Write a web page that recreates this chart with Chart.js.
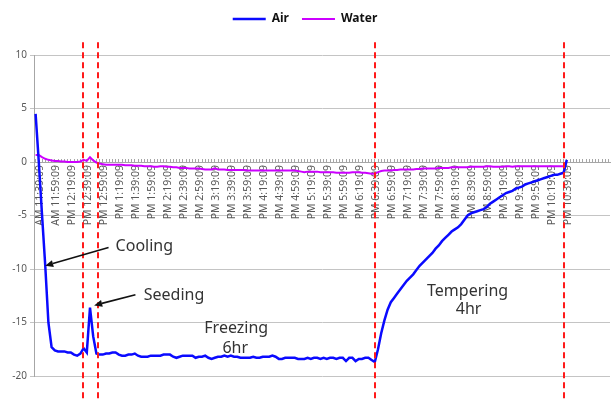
<!DOCTYPE html>
<html><head><meta charset="utf-8">
<script src="https://cdn.jsdelivr.net/npm/chart.js@4.4.1/dist/chart.umd.min.js"></script>
<style>html,body{margin:0;padding:0;background:#fff;}#wrap{width:616px;height:403px;}</style>
</head><body><div id="wrap"><canvas id="c" width="616" height="403"></canvas></div>
<script>
// Tick labels (every 20 minutes)
const tickLabels = ["AM 11:39:09","AM 11:59:09","PM 12:19:09","PM 12:39:09","PM 12:59:09","PM 1:19:09","PM 1:39:09","PM 1:59:09","PM 2:19:09","PM 2:39:09","PM 2:59:09","PM 3:19:09","PM 3:39:09","PM 3:59:09","PM 4:19:09","PM 4:39:09","PM 4:59:09","PM 5:19:09","PM 5:39:09","PM 5:59:09","PM 6:19:09","PM 6:39:09","PM 6:59:09","PM 7:19:09","PM 7:39:09","PM 7:59:09","PM 8:19:09","PM 8:39:09","PM 8:59:09","PM 9:19:09","PM 9:39:09","PM 9:59:09","PM 10:19:09","PM 10:39:09"];
const categoryCount = 180;   // samples on the category axis (4-minute steps)
const stepsPerLabel = 5;

// Series (°C)
const airTemps = [4.5,0.0,-4.9,-9.6,-15.0,-17.3,-17.6,-17.7,-17.7,-17.7,
-17.8,-17.8,-18.0,-18.1,-17.9,-17.4,-17.8,-13.6,-16.3,-17.9,
-18.0,-18.0,-17.9,-17.9,-17.8,-17.8,-18.0,-18.1,-18.1,-18.0,
-18.0,-17.9,-18.1,-18.2,-18.2,-18.2,-18.1,-18.1,-18.1,-18.1,
-18.0,-18.0,-18.0,-18.2,-18.3,-18.2,-18.1,-18.1,-18.1,-18.1,
-18.3,-18.2,-18.2,-18.1,-18.3,-18.4,-18.3,-18.2,-18.2,-18.1,
-18.2,-18.1,-18.2,-18.2,-18.3,-18.3,-18.3,-18.3,-18.2,-18.3,
-18.3,-18.2,-18.2,-18.2,-18.1,-18.2,-18.4,-18.4,-18.3,-18.3,
-18.3,-18.3,-18.4,-18.4,-18.4,-18.3,-18.4,-18.3,-18.3,-18.4,
-18.3,-18.4,-18.3,-18.3,-18.4,-18.3,-18.3,-18.6,-18.3,-18.3,
-18.6,-18.4,-18.4,-18.3,-18.3,-18.5,-18.7,-17.5,-16.0,-14.8,
-13.8,-13.1,-12.7,-12.3,-11.9,-11.5,-11.1,-10.8,-10.5,-10.1,
-9.7,-9.4,-9.1,-8.8,-8.5,-8.1,-7.8,-7.4,-7.1,-6.8,
-6.5,-6.3,-6.1,-5.8,-5.4,-5.0,-4.8,-4.7,-4.6,-4.5,
-4.4,-4.2,-3.9,-3.7,-3.5,-3.3,-3.1,-2.9,-2.8,-2.7,
-2.5,-2.4,-2.3,-2.1,-2.0,-1.9,-1.8,-1.7,-1.6,-1.5,
-1.4,-1.3,-1.2,-1.2,-1.1,-1.0,0.2];
const waterTemps = [0.65,0.65,0.45,0.3,0.2,0.15,0.1,0.1,0.05,0.05,
0.0,0.0,0.0,0.0,0.05,0.2,0.1,0.45,0.15,-0.05,
-0.15,-0.2,-0.25,-0.25,-0.25,-0.25,-0.25,-0.25,-0.3,-0.3,
-0.3,-0.35,-0.35,-0.35,-0.4,-0.4,-0.4,-0.45,-0.45,-0.4,
-0.4,-0.45,-0.45,-0.5,-0.5,-0.55,-0.55,-0.55,-0.6,-0.6,
-0.6,-0.6,-0.65,-0.7,-0.7,-0.7,-0.6,-0.7,-0.7,-0.7,
-0.75,-0.75,-0.75,-0.75,-0.75,-0.75,-0.8,-0.8,-0.8,-0.8,
-0.8,-0.8,-0.8,-0.8,-0.8,-0.8,-0.8,-0.8,-0.8,-0.8,
-0.8,-0.8,-0.85,-0.9,-0.95,-0.9,-0.9,-0.9,-0.9,-0.95,
-0.95,-0.95,-0.95,-0.95,-1.0,-1.0,-1.0,-1.0,-1.0,-0.95,
-0.95,-0.95,-1.0,-1.0,-1.05,-1.1,-1.1,-0.95,-0.85,-0.8,
-0.8,-0.8,-0.75,-0.75,-0.7,-0.7,-0.7,-0.7,-0.7,-0.65,
-0.65,-0.6,-0.6,-0.6,-0.6,-0.6,-0.55,-0.55,-0.55,-0.55,
-0.5,-0.5,-0.5,-0.5,-0.5,-0.5,-0.45,-0.45,-0.45,-0.45,
-0.45,-0.4,-0.4,-0.45,-0.45,-0.45,-0.45,-0.4,-0.4,-0.45,
-0.4,-0.4,-0.4,-0.4,-0.4,-0.4,-0.4,-0.4,-0.4,-0.4,
-0.4,-0.4,-0.4,-0.4,-0.4,-0.4];

// Phase boundaries (category index) and annotations (data units)
const phaseMarkers = [14.7, 19.4, 106, 165];
const markerSpan = [11.2, -22.2];
const notes = [
  {text:'Cooling', x:25, y:-7.9, align:'left'},
  {text:'Seeding', x:33.8, y:-12.5, align:'left'},
  {text:'Freezing', x:62.7, y:-15.6, align:'center'},
  {text:'6hr', x:62.4, y:-17.4, align:'center'},
  {text:'Tempering', x:135, y:-12.1, align:'center'},
  {text:'4hr', x:135.3, y:-13.8, align:'center'}
];
const arrows = [
  {from:[22.8,-8.0], to:[3.0,-9.7]},
  {from:[31.2,-12.4], to:[18.3,-13.4]}
];

const categories = [];
for (let i = 0; i < categoryCount; i++) {
  const k = i / stepsPerLabel;
  categories.push(Number.isInteger(k) && k < tickLabels.length ? tickLabels[k] : '');
}

const legendFix = {
  id: 'legendFix',
  beforeLayout(chart) {
    const lg = chart.legend;
    if (lg && !lg._fixed) {
      const f = lg.fit;
      lg.fit = function () { f.call(this); this.height = 55; };
      lg._fixed = true;
    }
  }
};

const overlay = {
  id: 'overlay',
  afterDatasetsDraw(chart) {
    const {ctx, scales: {x, y}} = chart;
    ctx.save();
    // red dashed phase lines
    ctx.strokeStyle = '#ff1a1a';
    ctx.lineWidth = 2;
    ctx.setLineDash([6, 4]);
    phaseMarkers.forEach(m => {
      const px = Math.round(x.getPixelForValue(m));
      ctx.beginPath();
      ctx.moveTo(px, y.getPixelForValue(markerSpan[0]));
      ctx.lineTo(px, y.getPixelForValue(markerSpan[1]));
      ctx.stroke();
    });
    ctx.setLineDash([]);
    // arrows
    ctx.strokeStyle = '#111';
    ctx.fillStyle = '#111';
    ctx.lineWidth = 1.6;
    arrows.forEach(a => {
      const x1 = x.getPixelForValue(a.from[0]), y1 = y.getPixelForValue(a.from[1]);
      const x2 = x.getPixelForValue(a.to[0]), y2 = y.getPixelForValue(a.to[1]);
      const ang = Math.atan2(y2 - y1, x2 - x1);
      const hl = 8, hw = 3.5;
      const bx = x2 - hl * Math.cos(ang), by = y2 - hl * Math.sin(ang);
      ctx.beginPath(); ctx.moveTo(x1, y1); ctx.lineTo(bx, by); ctx.stroke();
      ctx.beginPath();
      ctx.moveTo(x2, y2);
      ctx.lineTo(bx + hw * Math.sin(ang), by - hw * Math.cos(ang));
      ctx.lineTo(bx - hw * Math.sin(ang), by + hw * Math.cos(ang));
      ctx.closePath(); ctx.fill();
    });
    // notes
    ctx.fillStyle = '#333';
    ctx.font = '16px "Noto Sans", "Open Sans", sans-serif';
    ctx.textBaseline = 'middle';
    notes.forEach(n => {
      ctx.textAlign = n.align;
      ctx.fillText(n.text, x.getPixelForValue(n.x), y.getPixelForValue(n.y));
    });
    ctx.restore();
  }
};

new Chart(document.getElementById('c'), {
  type: 'line',
  data: {
    labels: categories,
    datasets: [
      {label: 'Air', data: airTemps, borderColor: '#0a0aff', backgroundColor: '#0a0aff', borderWidth: 2.5, pointRadius: 0, tension: 0},
      {label: 'Water', data: waterTemps, borderColor: '#cc00ff', backgroundColor: '#cc00ff', borderWidth: 2, pointRadius: 0, tension: 0}
    ]
  },
  options: {
    responsive: false,
    animation: false,
    devicePixelRatio: 1,
    layout: {padding: {left: 0, right: 6, top: 0, bottom: 27}},
    plugins: {
      legend: {
        position: 'top',
        labels: {
          usePointStyle: true, pointStyle: 'line', pointStyleWidth: 33,
          padding: 13, color: '#111',
          font: {family: '"Noto Sans", sans-serif', size: 12, weight: 'bold'}
        }
      },
      tooltip: {enabled: false}
    },
    scales: {
      x: {
        type: 'category',
        offset: true,
        position: {y: 0},
        afterFit(s) { s.paddingLeft = 0; s.paddingRight = 0; },
        grid: {drawOnChartArea: false, drawTicks: true, tickLength: -4, color: '#a6a6a6'},
        border: {color: '#a6a6a6', width: 1},
        ticks: {autoSkip: false, minRotation: 90, maxRotation: 90, padding: 7, labelOffset: 4, color: '#595959',
          font: {family: '"Noto Sans", sans-serif', size: 10.5}}
      },
      y: {
        min: -20, max: 10,
        afterFit(s) { s.width = 34; },
        grid: {color: '#c4c4c4', tickLength: 4},
        border: {color: '#a6a6a6'},
        ticks: {stepSize: 5, padding: 3, color: '#595959', font: {family: '"Noto Sans", sans-serif', size: 10}}
      }
    }
  },
  plugins: [legendFix, overlay]
});
</script></body></html>
